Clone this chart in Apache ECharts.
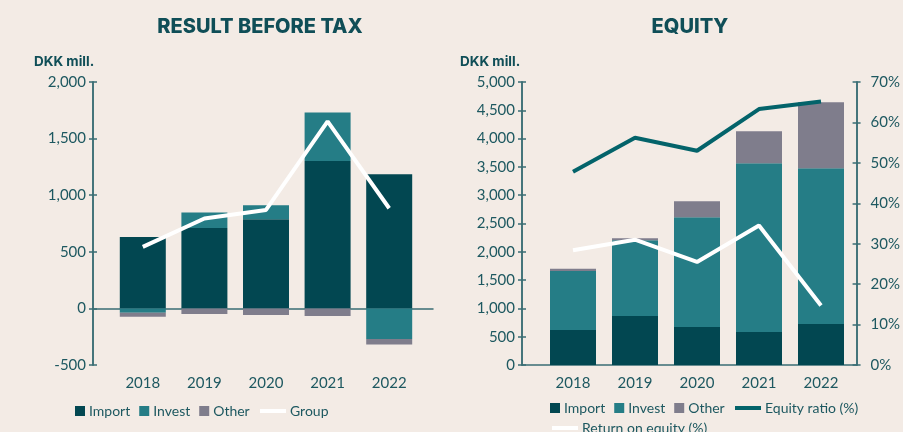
<!DOCTYPE html>
<html>
<head>
<meta charset="utf-8">
<script src="https://cdn.jsdelivr.net/npm/echarts@6/dist/echarts.min.js"></script>
<style>
  html, body { margin: 0; padding: 0; background: #F3EBE5; }
  #main { width: 903px; height: 432px; }
</style>
</head>
<body>
<div id="main"></div>
<script>
// 年份
var years = ['2018', '2019', '2020', '2021', '2022'];

// 税前利润 DKK mill.
var rbtImport = [630, 711, 788, 1302, 1184];
var rbtInvest = [-38, 136, 123, 429, -271];
var rbtOther = [-35, -50, -59, -68, -47];
var rbtGroup = [543, 794, 870, 1652, 885];

// 权益 DKK mill.
var eqImport = [618, 865, 671, 582, 724];
var eqInvest = [1041, 1341, 1941, 2983, 2752];
var eqOther = [40, 35, 282, 564, 1165];
var equityRatio = [47.8, 56.2, 53.0, 63.3, 65.2];
var returnOnEquity = [28.4, 31.0, 25.5, 34.5, 14.7];

var C_IMPORT = '#024751';
var C_INVEST = '#257D86';
var C_OTHER = '#7F7D8C';
var C_TEAL = '#03636A';
var C_TEXT = '#1D5860';
var C_TITLE = '#0F4E57';
var C_AXIS = '#3A6E74';
var FONT = 'Lato';
var FONT_B = 'Inter';

function frameY(min, max, interval, pos, grid, showLabel, inside, fmt, margin){
    return {
        type: 'value', gridIndex: grid, position: pos, min: min, max: max, interval: interval,
        splitLine: {show: false},
        axisLine: {show: true, lineStyle: {color: C_AXIS, width: 1.5}},
        axisTick: {show: true, inside: inside, length: 4, lineStyle: {color: C_AXIS, width: 1.5}},
        axisLabel: {show: showLabel, color: C_TEXT, fontFamily: FONT, fontSize: 15, margin: margin || 7,
            formatter: fmt}
    };
}
function thousands(v){
    return v.toLocaleString('en-US');
}
function hiddenY(min, max, grid, pos){
    return {type: 'value', gridIndex: grid, position: pos, min: min, max: max, show: false};
}
function catX(grid){
    return {
        type: 'category', gridIndex: grid, data: years, position: 'bottom',
        axisLine: {show: false, onZero: false}, axisTick: {show: false},
        axisLabel: {color: C_TEXT, fontFamily: FONT, fontSize: 15, margin: 11}
    };
}
function frameX(grid, yIdx){
    return {
        type: 'value', gridIndex: grid, min: 0, max: 1,
        splitLine: {show: false}, axisTick: {show: false}, axisLabel: {show: false},
        axisLine: {show: true, onZero: true, onZeroAxisIndex: yIdx, lineStyle: {color: C_AXIS, width: 1.5}}
    };
}
function bar(name, data, color, x, y){
    return {name: name, type: 'bar', stack: 'b' + x, xAxisIndex: x, yAxisIndex: y,
        data: data, barWidth: 46, itemStyle: {color: color}};
}
function line(name, data, color, x, y){
    return {name: name, type: 'line', xAxisIndex: x, yAxisIndex: y, data: data,
        symbol: 'none', z: 5, lineStyle: {color: color, width: 4}, itemStyle: {color: color}};
}
// 图例: 方块 或 线条
function legend(left, top, names, isLine){
    return {
        left: left, top: top, data: names, icon: 'rect', selectedMode: false,
        itemWidth: isLine ? 26 : 10, itemHeight: isLine ? 4 : 10, itemGap: 9, padding: 0,
        textStyle: {color: C_TEXT, fontFamily: FONT, fontSize: 14, padding: [0, 0, 0, -1]}
    };
}

var option = {
    backgroundColor: '#F3EBE5',
    animation: false,
    title: [
        {text: 'RESULT BEFORE TAX', left: 255, top: 12, textAlign: 'center',
            textStyle: {color: C_TITLE, fontFamily: FONT_B, fontWeight: 800, fontSize: 20}},
        {text: 'EQUITY', left: 685, top: 12, textAlign: 'center',
            textStyle: {color: C_TITLE, fontFamily: FONT_B, fontWeight: 800, fontSize: 20}},
        {text: 'DKK mill.', left: 29, top: 50,
            textStyle: {color: C_TITLE, fontFamily: FONT_B, fontWeight: 'bold', fontSize: 13.5}},
        {text: 'DKK mill.', left: 455, top: 50,
            textStyle: {color: C_TITLE, fontFamily: FONT_B, fontWeight: 'bold', fontSize: 13.5}}
    ],
    legend: [
        legend(75, 404, ['Import', 'Invest', 'Other'], false),
        legend(260, 404, ['Group'], true),
        legend(550, 401, ['Import', 'Invest', 'Other'], false),
        legend(735, 401, ['Equity ratio (%)'], true),
        legend(552, 421, ['Return on equity (%)'], true)
    ],
    grid: [
        {left: 93, top: 82, width: 340, height: 283},
        {left: 112, top: 82, width: 308, height: 283},
        {left: 522, top: 82, width: 342, height: 283},
        {left: 542, top: 82, width: 310, height: 283}
    ],
    xAxis: [frameX(0, 0), catX(1), frameX(2, 2), catX(3)],
    yAxis: [
        frameY(-500, 2000, 500, 'left', 0, true, false, thousands),    // 0
        frameY(-500, 2000, 500, 'left', 0, false, true),               // 1
        frameY(0, 5000, 500, 'left', 2, true, false, thousands),       // 2
        frameY(0, 5000, 500, 'left', 2, false, true),                  // 3
        frameY(0, 70, 10, 'right', 2, true, false, '{value}%', 14),    // 4
        frameY(0, 70, 10, 'right', 2, false, true),                    // 5
        hiddenY(-500, 2000, 1, 'left'),                                // 6
        hiddenY(0, 5000, 3, 'left'),                                   // 7
        hiddenY(0, 70, 3, 'right')                                     // 8
    ],
    series: [
        bar('Import', rbtImport, C_IMPORT, 1, 6),
        bar('Invest', rbtInvest, C_INVEST, 1, 6),
        bar('Other', rbtOther, C_OTHER, 1, 6),
        line('Group', rbtGroup, '#FFFFFF', 1, 6),
        bar('Import', eqImport, C_IMPORT, 3, 7),
        bar('Invest', eqInvest, C_INVEST, 3, 7),
        bar('Other', eqOther, C_OTHER, 3, 7),
        line('Equity ratio (%)', equityRatio, C_TEAL, 3, 8),
        line('Return on equity (%)', returnOnEquity, '#FFFFFF', 3, 8)
    ]
};

var myChart = echarts.init(document.getElementById('main'));
myChart.clear();
myChart.setOption(option);
</script>
</body>
</html>
